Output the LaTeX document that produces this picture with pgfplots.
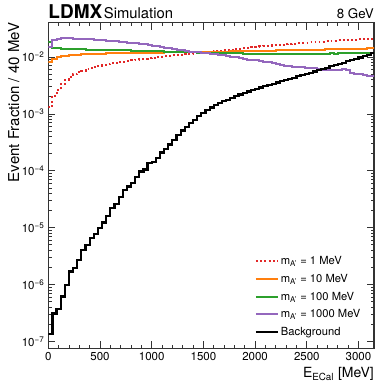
\documentclass[border=0pt]{standalone}
\usepackage{fontspec}
\setmainfont{TeX Gyre Heros}
\usepackage{pgfplots}
\usepackage{pgfplotstable}
\pgfplotsset{compat=1.18}
\definecolor{tred}{RGB}{226,40,40}
\definecolor{torange}{RGB}{255,127,14}
\definecolor{tgreen}{RGB}{44,160,44}
\definecolor{tpurple}{RGB}{148,103,189}
\pgfplotsset{legend image code/.code={\draw[#1] (0pt,0pt) -- (22pt,0pt);}}
\pgfplotstableread{
x bg red orange green purple
0 1.35e-7 1.32e-3 8.3e-3 1.80e-2 1.50e-2
40 3.1e-7 2.09e-3 9.3e-3 1.45e-2 2.00e-2
80 3.7e-7 2.63e-3 9.8e-3 1.42e-2 2.08e-2
120 6.2e-7 3.31e-3 1.02e-2 1.40e-2 2.12e-2
160 1.0e-6 3.98e-3 1.05e-2 1.39e-2 2.12e-2
200 1.7e-6 4.47e-3 1.07e-2 1.38e-2 2.12e-2
240 1.97e-6 5.01e-3 1.09e-2 1.37e-2 2.10e-2
280 2.7e-6 5.37e-3 1.10e-2 1.36e-2 2.10e-2
320 4.1e-6 5.75e-3 1.11e-2 1.36e-2 2.08e-2
360 4.9e-6 6.17e-3 1.12e-2 1.35e-2 2.05e-2
400 6.6e-6 6.46e-3 1.13e-2 1.34e-2 2.03e-2
440 7.8e-6 6.76e-3 1.14e-2 1.34e-2 2.00e-2
480 1.0e-5 7.08e-3 1.15e-2 1.33e-2 1.97e-2
520 1.23e-5 7.24e-3 1.15e-2 1.33e-2 1.95e-2
560 1.58e-5 7.50e-3 1.16e-2 1.32e-2 1.93e-2
600 2.2e-5 7.76e-3 1.16e-2 1.32e-2 1.90e-2
640 2.65e-5 7.94e-3 1.17e-2 1.31e-2 1.88e-2
680 3.5e-5 8.13e-3 1.17e-2 1.31e-2 1.86e-2
720 4.6e-5 8.32e-3 1.17e-2 1.30e-2 1.80e-2
760 5.3e-5 8.51e-3 1.18e-2 1.30e-2 1.78e-2
800 6.2e-5 8.71e-3 1.18e-2 1.29e-2 1.76e-2
840 7.9e-5 8.91e-3 1.18e-2 1.29e-2 1.73e-2
880 9.7e-5 9.12e-3 1.18e-2 1.28e-2 1.70e-2
920 1.05e-4 9.33e-3 1.19e-2 1.28e-2 1.66e-2
960 1.37e-4 9.55e-3 1.19e-2 1.27e-2 1.62e-2
1000 1.42e-4 9.77e-3 1.19e-2 1.26e-2 1.58e-2
1040 1.7e-4 1.00e-2 1.19e-2 1.26e-2 1.54e-2
1080 2.1e-4 1.01e-2 1.19e-2 1.25e-2 1.50e-2
1120 2.4e-4 1.02e-2 1.20e-2 1.24e-2 1.46e-2
1160 2.9e-4 1.05e-2 1.20e-2 1.24e-2 1.42e-2
1200 3.5e-4 1.07e-2 1.20e-2 1.23e-2 1.38e-2
1240 4.3e-4 1.08e-2 1.20e-2 1.22e-2 1.35e-2
1280 5.1e-4 1.10e-2 1.21e-2 1.22e-2 1.31e-2
1320 5.8e-4 1.12e-2 1.21e-2 1.21e-2 1.28e-2
1360 6.9e-4 1.14e-2 1.21e-2 1.20e-2 1.24e-2
1400 7.9e-4 1.16e-2 1.21e-2 1.20e-2 1.22e-2
1440 9.1e-4 1.17e-2 1.22e-2 1.19e-2 1.20e-2
1480 1.05e-3 1.20e-2 1.22e-2 1.19e-2 1.18e-2
1520 1.17e-3 1.22e-2 1.22e-2 1.18e-2 1.16e-2
1560 1.29e-3 1.24e-2 1.23e-2 1.18e-2 1.14e-2
1600 1.41e-3 1.26e-2 1.23e-2 1.17e-2 1.11e-2
1640 1.55e-3 1.29e-2 1.23e-2 1.17e-2 1.10e-2
1680 1.66e-3 1.30e-2 1.24e-2 1.17e-2 1.07e-2
1720 1.78e-3 1.33e-2 1.24e-2 1.16e-2 1.02e-2
1760 1.91e-3 1.35e-2 1.25e-2 1.16e-2 1.00e-2
1800 2.04e-3 1.38e-2 1.25e-2 1.16e-2 9.8e-3
1840 2.19e-3 1.40e-2 1.25e-2 1.16e-2 9.6e-3
1880 2.34e-3 1.43e-2 1.26e-2 1.15e-2 9.3e-3
1920 2.48e-3 1.45e-2 1.26e-2 1.15e-2 9.0e-3
1960 2.62e-3 1.48e-2 1.27e-2 1.15e-2 8.8e-3
2000 2.76e-3 1.50e-2 1.27e-2 1.15e-2 8.7e-3
2040 2.91e-3 1.53e-2 1.28e-2 1.15e-2 8.4e-3
2080 3.06e-3 1.55e-2 1.28e-2 1.15e-2 8.2e-3
2120 3.20e-3 1.58e-2 1.29e-2 1.14e-2 8.0e-3
2160 3.38e-3 1.60e-2 1.29e-2 1.15e-2 7.8e-3
2200 3.57e-3 1.62e-2 1.30e-2 1.15e-2 7.6e-3
2240 3.73e-3 1.64e-2 1.30e-2 1.14e-2 7.2e-3
2280 3.90e-3 1.68e-2 1.31e-2 1.14e-2 7.0e-3
2320 4.13e-3 1.70e-2 1.31e-2 1.15e-2 6.9e-3
2360 4.32e-3 1.72e-2 1.32e-2 1.14e-2 6.8e-3
2400 4.57e-3 1.74e-2 1.32e-2 1.14e-2 6.6e-3
2440 4.78e-3 1.76e-2 1.33e-2 1.15e-2 6.6e-3
2480 5.01e-3 1.78e-2 1.33e-2 1.15e-2 6.5e-3
2520 5.30e-3 1.80e-2 1.34e-2 1.14e-2 6.4e-3
2560 5.55e-3 1.82e-2 1.34e-2 1.15e-2 6.4e-3
2600 5.88e-3 1.84e-2 1.35e-2 1.15e-2 6.2e-3
2640 6.16e-3 1.86e-2 1.35e-2 1.15e-2 6.0e-3
2680 6.45e-3 1.88e-2 1.36e-2 1.15e-2 5.9e-3
2720 6.83e-3 1.91e-2 1.36e-2 1.16e-2 5.8e-3
2760 7.16e-3 1.93e-2 1.37e-2 1.15e-2 5.9e-3
2800 7.58e-3 1.95e-2 1.37e-2 1.16e-2 5.8e-3
2840 7.94e-3 1.97e-2 1.38e-2 1.16e-2 6.1e-3
2880 8.41e-3 2.00e-2 1.38e-2 1.16e-2 5.8e-3
2920 8.81e-3 2.00e-2 1.39e-2 1.16e-2 5.3e-3
2960 9.33e-3 2.02e-2 1.39e-2 1.16e-2 5.1e-3
3000 9.77e-3 2.04e-2 1.40e-2 1.16e-2 5.0e-3
3040 1.03e-2 2.07e-2 1.40e-2 1.17e-2 4.9e-3
3080 1.09e-2 2.09e-2 1.41e-2 1.17e-2 4.7e-3
3120 1.17e-2 2.11e-2 1.41e-2 1.17e-2 4.6e-3
3160 1.17e-2 2.11e-2 1.41e-2 1.17e-2 4.6e-3
}\histdata
\begin{document}
\begin{tikzpicture}
\begin{axis}[
  name=ax,
  scale only axis,
  width=325.7pt, height=325.6pt,
  xmin=0, xmax=3150,
  ymode=log, ymin=7.6e-8, ymax=0.04,
  axis line style={line width=1.1pt, black!80},
  tick align=inside,
  major tick length=7pt, minor tick length=3.5pt,
  every tick/.style={black!80, line width=0.7pt},
  xtick={0,500,1000,1500,2000,2500,3000},
  minor x tick num=4,
  ytick={1e-7,1e-6,1e-5,1e-4,1e-3,1e-2},
  yticklabels={10\textsuperscript{\textminus 7},10\textsuperscript{\textminus 6},10\textsuperscript{\textminus 5},10\textsuperscript{\textminus 4},10\textsuperscript{\textminus 3},10\textsuperscript{\textminus 2}},
  /pgf/number format/assume math mode=true,
  /pgf/number format/1000 sep={},
  ticklabel style={font=\fontsize{11.5}{13}\selectfont},
  xticklabel style={yshift=-1pt},
  yticklabel style={xshift=-0.5pt},
  xlabel={E\textsubscript{ECal} [MeV]},
  xlabel style={at={(axis description cs:1,0)}, anchor=base east, yshift=-29.5pt, font=\fontsize{14}{16}\selectfont, inner sep=0pt},
  ylabel={Event Fraction / 40 MeV},
  ylabel style={at={(axis description cs:-0.088,1)}, anchor=south east, rotate=0, font=\fontsize{15}{17}\selectfont, inner sep=0pt},
  legend style={draw=none, fill=none, at={(axis description cs:0.965,0.028)}, anchor=south east, font=\fontsize{11.2}{13}\selectfont, row sep=4pt, inner sep=0pt},
  legend cell align=left,
]
\addplot[const plot, tred, line width=2pt, dash pattern=on 1.9pt off 2.4pt] table[x=x, y=red] {\histdata};
\addlegendentry{m\textsubscript{A'} = 1 MeV}
\addplot[const plot, torange, line width=2pt] table[x=x, y=orange] {\histdata};
\addlegendentry{m\textsubscript{A'} = 10 MeV}
\addplot[const plot, tgreen, line width=2pt] table[x=x, y=green] {\histdata};
\addlegendentry{m\textsubscript{A'} = 100 MeV}
\addplot[const plot, tpurple, line width=2pt] table[x=x, y=purple] {\histdata};
\addlegendentry{m\textsubscript{A'} = 1000 MeV}
\addplot[const plot, black, line width=2.2pt] table[x=x, y=bg] {\histdata};
\addlegendentry{Background}
\end{axis}
\node[anchor=base west, inner sep=0pt] at ([yshift=4.5pt]ax.north west) {{\fontsize{19}{19}\selectfont\bfseries LDMX}\,{\fontsize{14.8}{15}\selectfont Simulation}};
\node[anchor=base east, inner sep=0pt] at ([yshift=4.5pt]ax.north east) {\fontsize{13.3}{14}\selectfont 8 GeV};
\pgfresetboundingbox
\useasboundingbox ([xshift=-48.3pt, yshift=-37.7pt]ax.south west) rectangle ([xshift=6pt, yshift=22.7pt]ax.north east);
\end{tikzpicture}
\end{document}
